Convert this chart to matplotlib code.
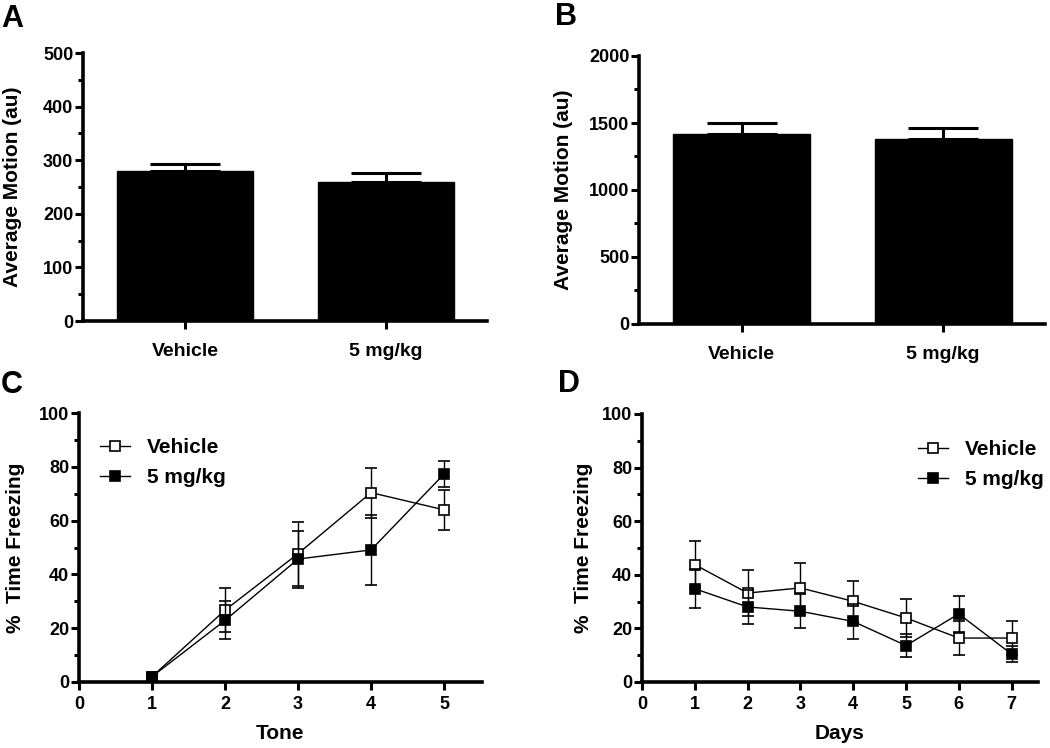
import matplotlib
matplotlib.use("Agg")
import matplotlib.pyplot as plt
from matplotlib.ticker import MultipleLocator, FixedLocator
from matplotlib.lines import Line2D

plt.rcParams['font.family'] = ['Liberation Sans', 'DejaVu Sans']
plt.rcParams['font.weight'] = 'bold'
plt.rcParams['axes.labelweight'] = 'bold'

# ---- data ----
groups = ["Vehicle", "5 mg/kg"]
motion_a = [280, 260]
motion_a_sem = [13, 17]
motion_b = [1418, 1380]
motion_b_sem = [82, 83]

tones = [1, 2, 3, 4, 5]
tone_vehicle = [2.0, 26.7, 47.7, 70.4, 64.0]
tone_vehicle_sem = [0.6, 8.1, 11.9, 9.3, 7.4]
tone_drug = [2.0, 22.9, 45.7, 49.1, 77.3]
tone_drug_sem = [0.6, 7.1, 10.6, 13.0, 4.7]

days = [1, 2, 3, 4, 5, 6, 7]
day_vehicle = [43.8, 33.2, 35.1, 30.1, 23.9, 16.4, 16.4]
day_vehicle_sem = [8.7, 8.5, 9.3, 7.7, 7.1, 6.4, 6.2]
day_drug = [34.8, 28.0, 26.4, 22.6, 13.6, 25.4, 10.4]
day_drug_sem = [7.2, 6.4, 6.4, 6.6, 4.3, 6.8, 2.9]

series_names = ["Vehicle", "5 mg/kg"]

W, H = 1050, 748
fig = plt.figure(figsize=(W / 100, H / 100), dpi=100)


def ax_px(l, r, b, t):
    return fig.add_axes([l / W, 1 - b / H, (r - l) / W, (b - t) / H])


SPINE = 2.6


def style(ax):
    for s in ("top", "right"):
        ax.spines[s].set_visible(False)
    for s in ("left", "bottom"):
        ax.spines[s].set_linewidth(SPINE)
    ax.tick_params(which='major', length=6, width=2.2, direction='out', labelsize=13)
    ax.tick_params(which='minor', length=3.8, width=2.2, direction='out')
    ax.tick_params(axis='y', which='major', pad=1)
    for lab in ax.get_xticklabels() + ax.get_yticklabels():
        lab.set_fontweight('bold')


def bar_panel(ax, vals, sems, ymax, major, minor, labx):
    x = list(range(len(groups)))
    ax.bar(x, vals, width=0.68, color='black', edgecolor='black', zorder=2)
    ax.errorbar(x, vals, yerr=[[0] * len(sems), sems], fmt='none', ecolor='black',
                elinewidth=2.2, capsize=25, capthick=2.2, zorder=1)
    ax.set_ylim(0, ymax)
    ax.set_xlim(-0.51, 1.505)
    ax.yaxis.set_major_locator(MultipleLocator(major))
    ax.yaxis.set_minor_locator(MultipleLocator(minor))
    ax.set_xticks(x)
    ax.set_xticklabels(groups, fontsize=14, fontweight='bold')
    style(ax)
    ax.tick_params(axis='x', which='major', pad=10, labelsize=14)
    ax.set_ylabel("Average Motion (au)", fontsize=15, fontweight='bold')
    ax.yaxis.set_label_coords(labx, 0.5)


def line_panel(ax, xs, v, vs, d, ds, xmax, xlabel, labx, laby, leg_xy):
    ax.errorbar(xs, v, yerr=vs, color='black', lw=1.0, elinewidth=1.0, capsize=4,
                capthick=1.0, marker='s', markersize=7.5, markerfacecolor='white',
                markeredgecolor='black', markeredgewidth=1.2, zorder=3, clip_on=False)
    ax.errorbar(xs, d, yerr=ds, color='black', lw=1.0, elinewidth=1.0, capsize=4,
                capthick=1.0, marker='s', markersize=7.5, markerfacecolor='black',
                markeredgecolor='black', markeredgewidth=1.2, zorder=4, clip_on=False)
    ax.set_xlim(0, xmax)
    ax.set_ylim(0, 100)
    ax.xaxis.set_major_locator(FixedLocator(list(range(0, int(xmax) + 1))))
    ax.yaxis.set_major_locator(MultipleLocator(20))
    ax.yaxis.set_minor_locator(MultipleLocator(10))
    style(ax)
    ax.tick_params(axis='x', which='major', pad=4, labelsize=13)
    ax.set_xlabel(xlabel, fontsize=15, fontweight='bold')
    ax.xaxis.set_label_coords(0.5, laby)
    ax.set_ylabel("%  Time Freezing", fontsize=15, fontweight='bold')
    ax.yaxis.set_label_coords(labx, 0.5)
    handles = [
        Line2D([], [], color='black', lw=1.0, marker='s', markersize=7.5,
               markerfacecolor='white', markeredgecolor='black', markeredgewidth=1.2),
        Line2D([], [], color='black', lw=1.0, marker='s', markersize=7.5,
               markerfacecolor='black', markeredgecolor='black', markeredgewidth=1.2),
    ]
    leg = ax.legend(handles, series_names, loc='upper left', bbox_to_anchor=leg_xy,
                    frameon=False, borderpad=0, borderaxespad=0, handlelength=1.45,
                    handletextpad=0.8, labelspacing=0.55,
                    prop={'family': 'Liberation Sans', 'weight': 'bold', 'size': 15})
    return leg


# Panel A
axA = ax_px(83, 487, 321, 53)
bar_panel(axA, motion_a, motion_a_sem, 500, 100, 50, -0.151)

# Panel B
axB = ax_px(639, 1045, 324, 56)
bar_panel(axB, motion_b, motion_b_sem, 2000, 500, 250, -0.163)

# Panel C
axC = ax_px(79, 482, 682, 413)
line_panel(axC, tones, tone_vehicle, tone_vehicle_sem, tone_drug, tone_drug_sem,
           5.52, "Tone", -0.134, -0.156, (0.052, 0.907))

# Panel D
axD = ax_px(642, 1038, 682, 414)
line_panel(axD, days, day_vehicle, day_vehicle_sem, day_drug, day_drug_sem,
           7.5, "Days", -0.124, -0.157, (0.697, 0.903))

# Panel letters
for letter, px, py in [("A", 1, 27), ("B", 555, 25), ("C", 1, 393), ("D", 558, 392)]:
    fig.text(px / W, 1 - py / H, letter, fontsize=22, fontweight='bold',
             ha='left', va='baseline')

fig.savefig("out.png", dpi=100)
